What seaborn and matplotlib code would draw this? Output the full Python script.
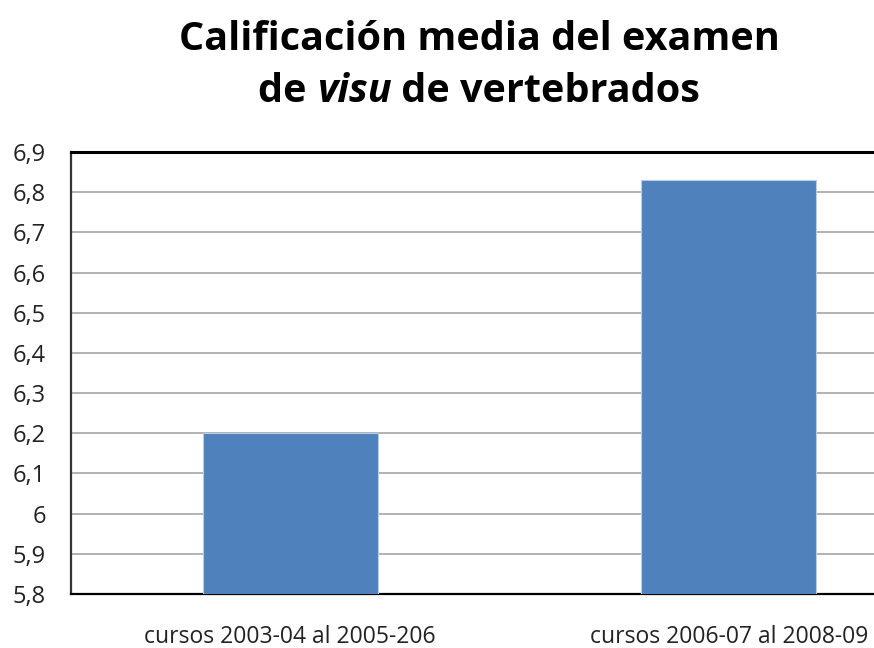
import matplotlib
matplotlib.use('Agg')
import matplotlib.pyplot as plt
import seaborn as sns
import pandas as pd

cursos = ['cursos 2003-04 al 2005-206', 'cursos 2006-07 al 2008-09']
calificacion = [6.2, 6.83]
ticks = [5.8, 5.9, 6.0, 6.1, 6.2, 6.3, 6.4, 6.5, 6.6, 6.7, 6.8, 6.9]
tick_labels = ['5,8', '5,9', '6', '6,1', '6,2', '6,3', '6,4', '6,5', '6,6', '6,7', '6,8', '6,9']

sns.set_style('white')
plt.rcParams['font.family'] = ['Open Sans', 'DejaVu Sans']

df = pd.DataFrame({'curso': cursos, 'nota': calificacion})

fig = plt.figure(figsize=(8.74, 6.48), dpi=100)
ax = fig.add_axes([71 / 874, 54 / 648, 877 / 874, 442 / 648])

sns.barplot(data=df, x='curso', y='nota', color='#4F81BD', width=0.4,
            edgecolor='#B9CDE5', linewidth=0.8, saturation=1, ax=ax, zorder=3)

ax.set_ylim(5.8, 6.9)
ax.set_xlim(-0.5, 1.5)
ax.set_yticks(ticks)
ax.set_yticklabels(tick_labels)
ax.yaxis.grid(True, color='#A6A6A6', linewidth=1.2, zorder=0)
ax.set_axisbelow(True)
ax.set_xlabel('')
ax.set_ylabel('')
ax.tick_params(axis='y', labelsize=17, pad=18, length=0, labelcolor='#222222')
ax.tick_params(axis='x', labelsize=16.5, pad=22, length=0, labelcolor='#222222')

ax.spines['top'].set_linewidth(2.2)
ax.spines['top'].set_color('black')
ax.spines['left'].set_linewidth(1.6)
ax.spines['left'].set_color('#333333')
ax.spines['bottom'].set_linewidth(1.6)
ax.spines['bottom'].set_color('black')
ax.spines['right'].set_visible(False)

# title
fig.text(479 / 874, 1 - 50 / 648, 'Calificación media del examen', ha='center',
         va='baseline', fontsize=28.5, fontweight='bold', color='black')

parts = [('de ', 'normal'), ('visu', 'italic'), (' de vertebrados', 'normal')]
fig.canvas.draw()
r = fig.canvas.get_renderer()
objs = []
for s, st in parts:
    t = fig.text(0, 1 - 102 / 648, s, ha='left', va='baseline', fontsize=28.5,
                 fontweight='bold', style=st, color='black')
    objs.append(t)
widths = [t.get_window_extent(r).width for t in objs]
x = 479 - sum(widths) / 2
for t, w in zip(objs, widths):
    t.set_x(x / 874)
    x += w

fig.savefig('out.png', dpi=100)
